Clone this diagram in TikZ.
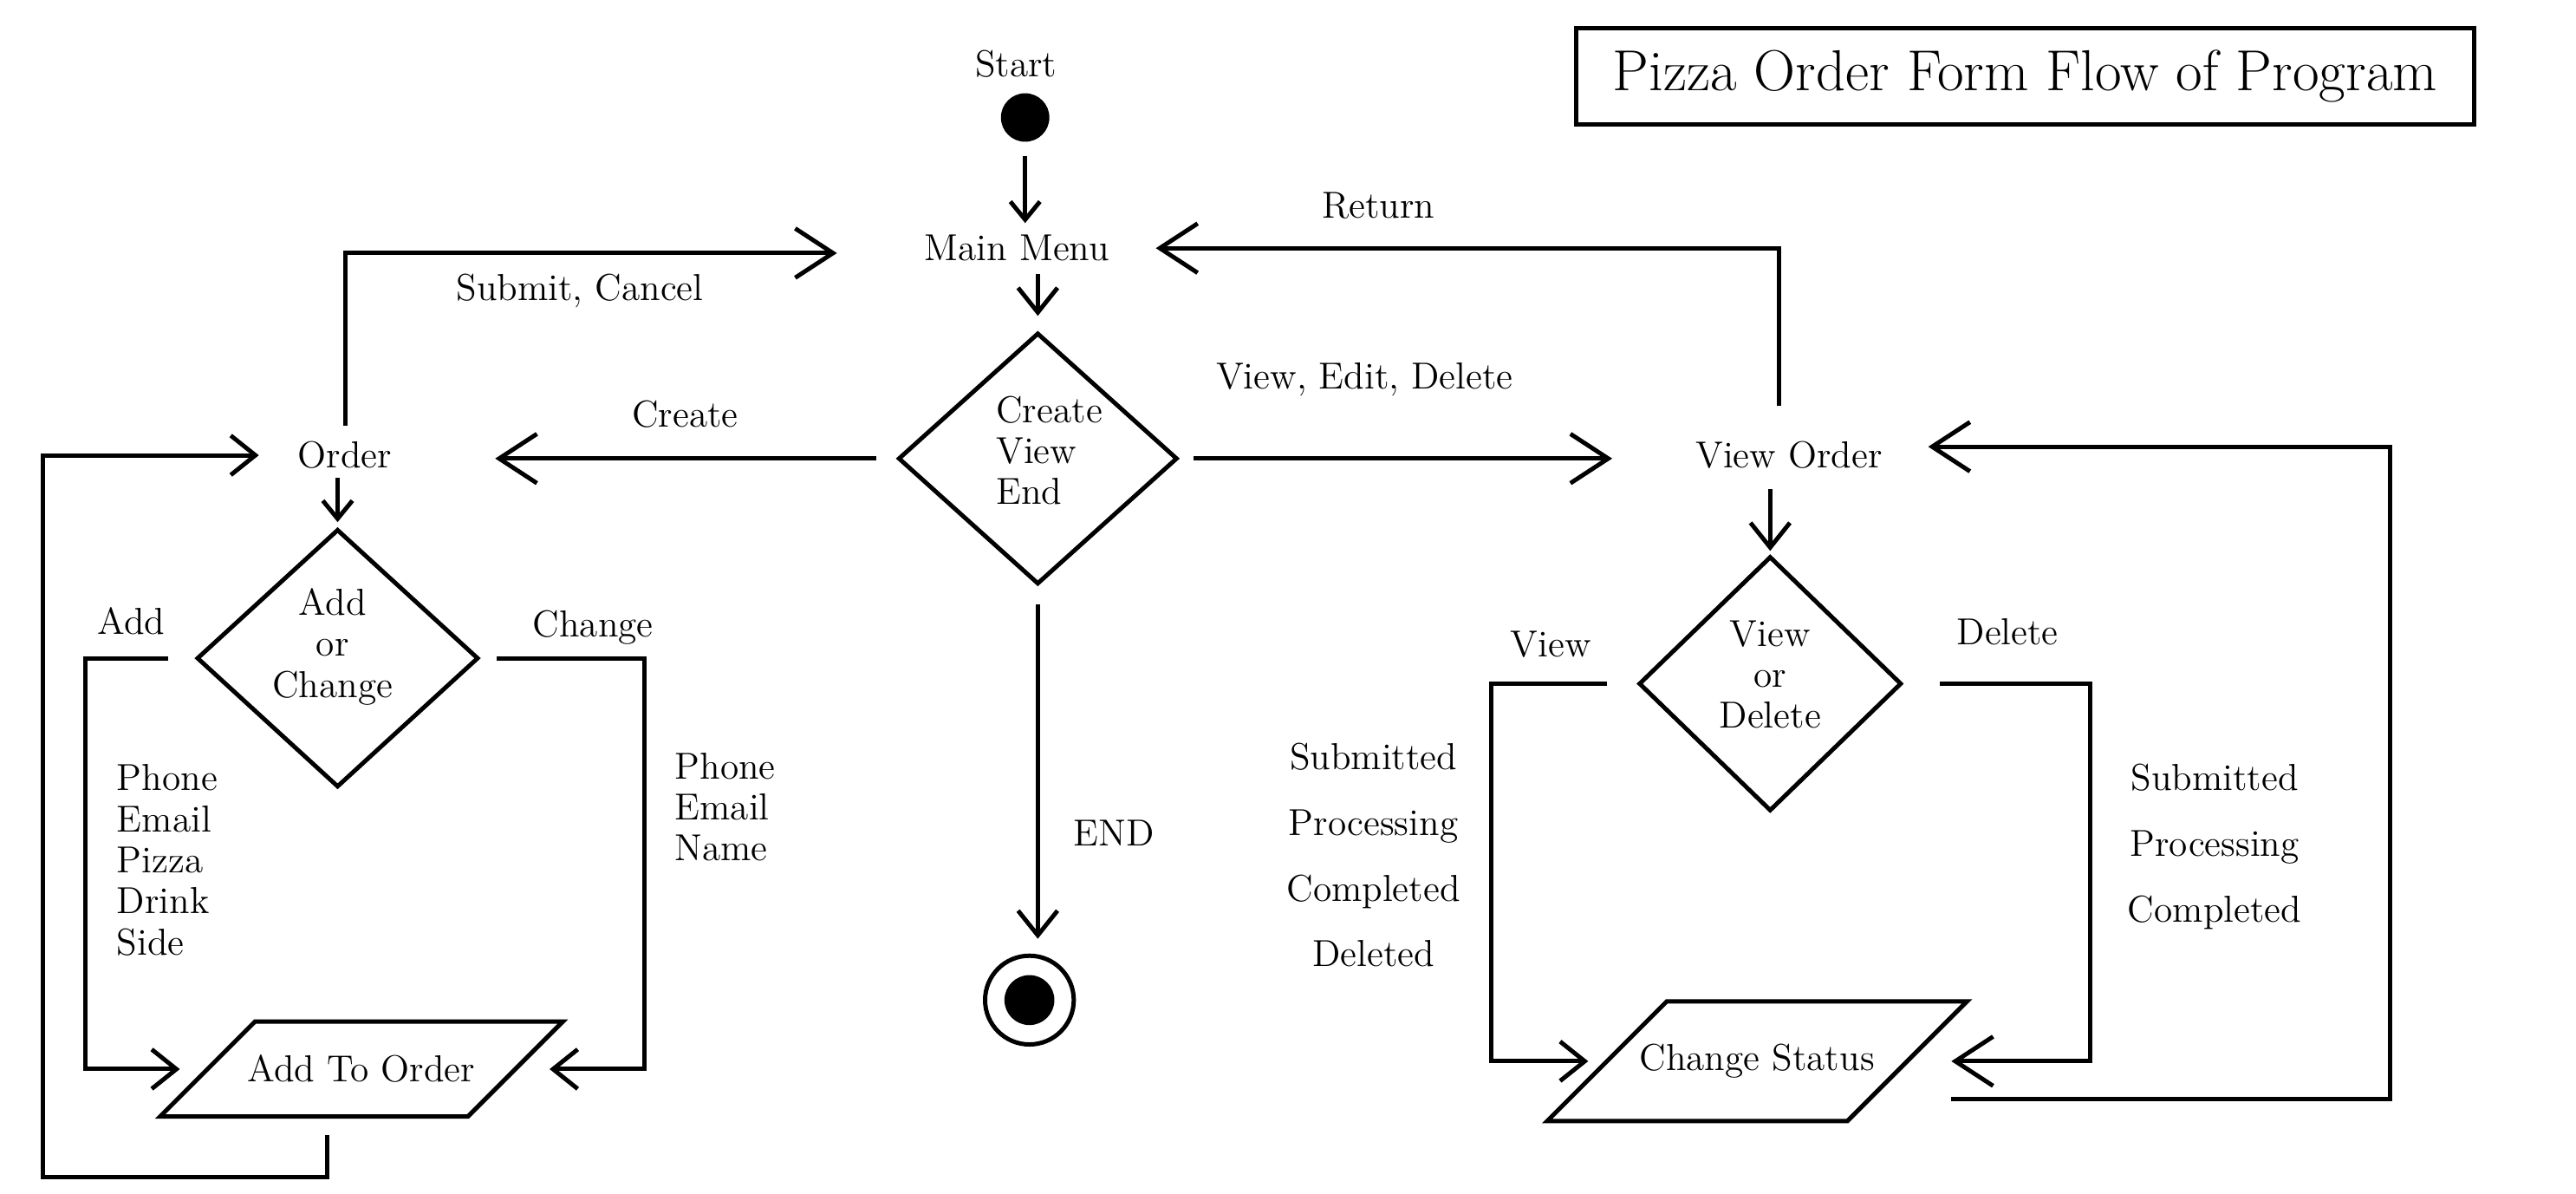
\documentclass[tikz,border=0pt]{standalone}
\usepackage{tikz}
\usetikzlibrary{shapes.geometric,arrows.meta}

\begin{document}
\begin{tikzpicture}[x=0.02cm, y=-0.02cm,
    every node/.style={font=\fontsize{13pt}{14.2pt}\selectfont, inner sep=0pt},
    bigarrow/.style={line width=1.5pt, -{Straight Barb[length=0.46cm, width=0.6cm]}},
    midarrow/.style={line width=1.5pt, -{Straight Barb[length=0.3cm, width=0.48cm]}},
    smallarrow/.style={line width=1.5pt, -{Straight Barb[length=0.22cm, width=0.36cm]}},
    choice/.style={draw, diamond, line width=1.5pt},
    io/.style={draw, trapezium, trapezium left angle=45, trapezium right angle=135, line width=1.5pt}]
    \useasboundingbox (0,0) rectangle (1568,726);

    \node[draw, line width=1.5pt, minimum width=10.93cm, minimum height=1.17cm, font=\fontsize{20pt}{22pt}\selectfont] (title) at (1232.6,46.5) {Pizza Order Form Flow of Program};

    \node (startlabel) at (618.5,39) {Start};
    \node[circle, fill, minimum size=0.59cm] (start) at (624,71.5) {};
    \node (mainmenu) at (619,151) {Main Menu};
    \node[choice, minimum width=3.4cm, minimum height=3.06cm] (menuchoice) at (631.7,279) {};
    \node[align=left] (menuchoicetext) at ([xshift=0.14cm, yshift=0.1cm]menuchoice.center) {Create\\View\\End};
    \node (order) at (210,277) {Order};
    \node (vieworder) at (1089,276.8) {View Order};
    \node[choice, minimum width=3.43cm, minimum height=3.14cm] (addorchange) at (205.5,400.5) {};
    \node[align=center] (addorchangetext) at ([xshift=-0.06cm, yshift=0.14cm]addorchange.center) {Add\\or\\Change};
    \node[choice, minimum width=3.2cm, minimum height=3.1cm] (viewordelete) at (1077.5,416) {};
    \node[align=center] (viewordeletetext) at ([yshift=0.11cm]viewordelete.center) {View\\or\\Delete};
    \node[io, inner xsep=-0.09cm, inner ysep=0.41cm] (addtoorder) at (220,650.5) {Add To Order};
    \node[io, inner xsep=-0.33cm, inner ysep=0.52cm] (changestatus) at (1069.5,645.7) {Change Status};
    \node[circle, draw, line width=1.5pt, minimum size=1.08cm, path picture={\fill (path picture bounding box.center) circle (0.304cm);}] (finish) at (626.6,608.5) {};

    \node (submitlabel) at (353,177) {Submit, Cancel};
    \node (createlabel) at (417,252) {Create};
    \node (viewlabel) at (830.6,231) {View, Edit, Delete};
    \node (returnlabel) at (839,125) {Return};
    \node (endlabel) at (678,507) {END};
    \node (addlabel) at (80,378) {Add};
    \node (changelabel) at (361,382) {Change};
    \node[align=left] (addfields) at (101.8,523.3) {Phone\\Email\\Pizza\\Drink\\Side};
    \node[align=left] (changefields) at (441.4,491) {Phone\\Email\\Name};
    \node (viewbranch) at (944,392) {View};
    \node (deletebranch) at (1222,384.5) {Delete};
    \node[align=center] (viewstates) at (836,520.3) {Submitted\\[8.5pt]Processing\\[8.5pt]Completed\\[8.5pt]Deleted};
    \node[align=center] (deletestates) at (1348,515.2) {Submitted\\[8.5pt]Processing\\[8.5pt]Completed};

    \draw[smallarrow, shorten <=0.17cm, shorten >=0.14cm] (start.south) -- (start.south |- mainmenu.north);
    \draw[midarrow, shorten <=0.15cm, shorten >=0.18cm] (menuchoice.north |- mainmenu.south) -- (menuchoice.north);
    \draw[bigarrow, shorten <=0.42cm, shorten >=0.56cm] ([xshift=-0.12cm]vieworder.north) |- (mainmenu.east);
    \draw[bigarrow, shorten <=0.24cm, shorten >=1.25cm] (menuchoice.west) -- (menuchoice.west -| order.east);
    \draw[bigarrow, shorten <=0.17cm, shorten >=1.01cm] (menuchoice.east) -- (menuchoice.east -| vieworder.west);
    \draw[midarrow, shorten <=0.22cm, shorten >=0.18cm] (menuchoice.south) -- (menuchoice.south |- finish.north);
    \draw[bigarrow, shorten <=0.19cm, shorten >=1.06cm] (order.north) |- ([yshift=-0.06cm]mainmenu.west);
    \draw[smallarrow, shorten <=0.1cm, shorten >=0.06cm] (addorchange.north |- order.south) -- (addorchange.north);
    \draw[midarrow, shorten <=0.32cm, shorten >=0.3cm] (addorchange.west) -- ++(-66.5,0) |- (addtoorder.west);
    \draw[midarrow, shorten <=0.2cm, shorten >=0.38cm] (addorchange.east) -- ++(99.5,0) |- (addtoorder.east);
    \draw[midarrow, shorten <=0.2cm, shorten >=0.47cm] ([xshift=-0.42cm]addtoorder.south) -- ++(0,35.5) -- ++(-173,0) |- (order.west);
    \draw[midarrow, shorten <=0.24cm, shorten >=0.04cm] (viewordelete.north |- vieworder.south) -- (viewordelete.north);
    \draw[midarrow, shorten <=0.36cm, shorten >=0.19cm] (viewordelete.west) -- ++(-88.5,0) |- (changestatus.west);
    \draw[bigarrow, shorten <=0.44cm, shorten >=0.5cm] (viewordelete.east) -- ++(113.5,0) |- (changestatus.east);
    \draw[bigarrow, shorten <=0.5cm, shorten >=0.55cm] ([yshift=-0.46cm]changestatus.east) -- ++(292,0) |- ([yshift=0.1cm]vieworder.east);
\end{tikzpicture}
\end{document}
